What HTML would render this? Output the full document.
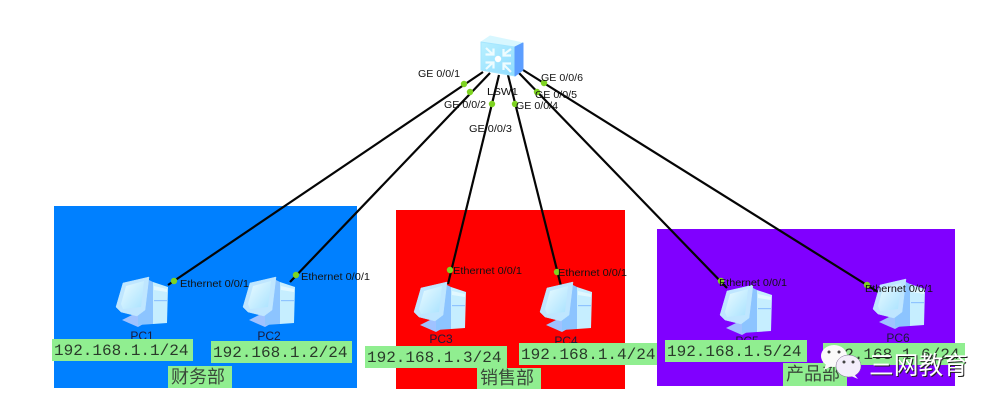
<!DOCTYPE html>
<html lang="zh">
<head>
<meta charset="utf-8">
<title>网络拓扑</title>
<style>
html,body{margin:0;padding:0;background:#fff;width:1000px;height:407px;overflow:hidden}
svg{display:block}
.p{font:10.5px "Liberation Sans",sans-serif;fill:#111}
.pc{font:12px "Liberation Sans",sans-serif;fill:#1a1a3a}
.ip{font:16px "Liberation Mono",monospace;fill:#2a3a2a}
.cn{font:18px "Liberation Sans","Noto Sans CJK SC",sans-serif;fill:#3a4a3a}
.wm{font:25px "Liberation Sans","Noto Sans CJK SC",sans-serif}
</style>
</head>
<body>
<svg width="1000" height="407" viewBox="0 0 1000 407" xmlns="http://www.w3.org/2000/svg">
<defs>
<linearGradient id="scr" x1="0" y1="0" x2="1" y2="1"><stop offset="0" stop-color="#eafbff"/><stop offset="1" stop-color="#a9e2ff"/></linearGradient>
<linearGradient id="sw" x1="0" y1="0" x2="1" y2="1"><stop offset="0" stop-color="#b9f0ff"/><stop offset="1" stop-color="#8fdcff"/></linearGradient>
<g id="pcicon">
<polygon points="6,43 16,38 22,38 29,46 22,50" fill="#9fc2ff"/>
<polygon points="22,12 33,3 37,5 37,47 22,48" fill="#8cc4ff"/>
<polygon points="37,5 52,10 51,46 37,47" fill="#c6eeff"/>
<polygon points="38,9 51,12 51,15 38,13" fill="#e2f8ff"/>
<rect x="38" y="23" width="13" height="1.2" fill="#8fc4ff"/>
<polygon points="0,30 7,6 33,0 29,33 21,39 5,35" fill="#bfe6ff" stroke="#bfe6ff" stroke-width="0.5" stroke-linejoin="round"/>
<polygon points="5,27 10,9 28,4 25,30 7,32" fill="url(#scr)"/>
</g>
</defs>

<rect x="54" y="206" width="303" height="182" fill="#0080ff"/>
<rect x="396" y="210" width="229" height="179" fill="#ff0000"/>
<rect x="657" y="229" width="298" height="157" fill="#8000ff"/>

<g stroke="#050505" stroke-width="2.2" fill="none">
<line x1="483" y1="72" x2="168" y2="285"/>
<line x1="490" y1="73" x2="290" y2="282"/>
<line x1="499" y1="75" x2="448" y2="284"/>
<line x1="508" y1="75" x2="561" y2="286"/>
<line x1="519" y1="73" x2="727" y2="288"/>
<line x1="523" y1="70" x2="878" y2="292"/>
</g>

<!-- Switch -->
<g stroke-linejoin="round" stroke-width="1">
<polygon points="481,42 490,36 523,43 515,47" fill="#d8f7ff" stroke="#d8f7ff"/>
<polygon points="481,42 515,47 515,76 481,70" fill="url(#sw)" stroke="#a5e6ff"/>
<polygon points="515,47 523,43 523,70 515,76" fill="#5c9eff" stroke="#5c9eff"/>
</g>
<circle cx="498" cy="59" r="3.2" fill="#fff"/>
<g stroke="#eefcff" stroke-width="2.2" fill="none">
<path d="M486 48l7 6.5M485.5 54.5h8v-6"/>
<path d="M511 49l-8 6M503.5 49v6.5h7.5"/>
<path d="M486 69l7-6.5M485.5 62.500h8v6"/>
<path d="M511 72l-8-8M503.500 70v-6.500h7.500"/>
</g>

<!-- PCs -->
<use href="#pcicon" x="116" y="277"/>
<use href="#pcicon" x="243" y="277"/>
<use href="#pcicon" x="414" y="282"/>
<use href="#pcicon" x="540" y="282"/>
<use href="#pcicon" x="720" y="285"/>
<use href="#pcicon" x="873" y="279"/>

<!-- Port dots -->
<g fill="#7ed321">
<circle cx="464" cy="84" r="3.2"/><circle cx="470" cy="92" r="3.2"/><circle cx="492" cy="104" r="3.2"/>
<circle cx="515" cy="104" r="3.2"/><circle cx="537" cy="92" r="3.2"/><circle cx="544" cy="83" r="3.2"/>
<circle cx="174" cy="281" r="3.2"/><circle cx="296" cy="275" r="3.2"/><circle cx="450" cy="270" r="3.2"/>
<circle cx="557" cy="272" r="3.2"/><circle cx="721" cy="281" r="3.2"/><circle cx="867" cy="285" r="3.2"/>
</g>

<!-- Port labels -->
<g class="p">
<text x="418" y="77" textLength="42" lengthAdjust="spacingAndGlyphs">GE 0/0/1</text>
<text x="444" y="108" textLength="42" lengthAdjust="spacingAndGlyphs">GE 0/0/2</text>
<text x="469" y="132" textLength="43" lengthAdjust="spacingAndGlyphs">GE 0/0/3</text>
<text x="516" y="109" textLength="42" lengthAdjust="spacingAndGlyphs">GE 0/0/4</text>
<text x="535" y="98" textLength="42" lengthAdjust="spacingAndGlyphs">GE 0/0/5</text>
<text x="541" y="81" textLength="42" lengthAdjust="spacingAndGlyphs">GE 0/0/6</text>
<text x="487" y="95" textLength="31" lengthAdjust="spacingAndGlyphs">LSW1</text>
<text x="180" y="287" textLength="69" lengthAdjust="spacingAndGlyphs">Ethernet 0/0/1</text>
<text x="301" y="280" textLength="69" lengthAdjust="spacingAndGlyphs">Ethernet 0/0/1</text>
<text x="453" y="274" textLength="69" lengthAdjust="spacingAndGlyphs">Ethernet 0/0/1</text>
<text x="558" y="276" textLength="69" lengthAdjust="spacingAndGlyphs">Ethernet 0/0/1</text>
<text x="719" y="286" textLength="68" lengthAdjust="spacingAndGlyphs">Ethernet 0/0/1</text>
<text x="865" y="292" textLength="68" lengthAdjust="spacingAndGlyphs">Ethernet 0/0/1</text>
</g>

<g class="pc" text-anchor="middle">
<text x="142" y="340">PC1</text>
<text x="269" y="340">PC2</text>
<text x="441" y="343">PC3</text>
<text x="566" y="345">PC4</text>
<text x="747" y="345">PC5</text>
<text x="898" y="342">PC6</text>
</g>

<!-- IP labels -->
<g fill="#90ee90">
<rect x="52" y="339" width="141" height="22"/>
<rect x="211" y="341" width="141" height="22"/>
<rect x="365" y="346" width="142" height="22"/>
<rect x="519" y="343" width="138" height="22"/>
<rect x="665" y="340" width="142" height="22"/>
<rect x="823" y="343" width="142" height="22"/>
<rect x="168" y="366" width="64" height="22"/>
<rect x="477" y="368" width="64" height="21"/>
<rect x="783" y="363" width="64" height="23"/>
</g>
<g class="ip">
<text x="54" y="355">192.168.1.1/24</text>
<text x="213" y="357">192.168.1.2/24</text>
<text x="367" y="362">192.168.1.3/24</text>
<text x="521" y="359">192.168.1.4/24</text>
<text x="667" y="356">192.168.1.5/24</text>
<text x="825" y="359">192.168.1.6/24</text>
</g>
<g class="cn">
<text x="171" y="383">财务部</text>
<text x="480" y="384">销售部</text>
<text x="786" y="380">产品部</text>
</g>

<!-- Watermark -->
<ellipse cx="834" cy="356" rx="13" ry="11" fill="#fafafa"/>
<polygon points="826,364 824,370 832,366" fill="#fafafa"/>
<circle cx="829" cy="352" r="1.5" fill="#444"/><circle cx="839" cy="352" r="1.5" fill="#444"/>
<ellipse cx="848.500" cy="366" rx="12.500" ry="11" fill="#f3eefb" stroke="#7a6a90" stroke-width="0.5"/>
<polygon points="854,374 858,379 851,376" fill="#f3eefb"/>
<circle cx="844" cy="362" r="1.5" fill="#444"/><circle cx="853" cy="362" r="1.5" fill="#444"/>
<text class="wm" x="869" y="374" textLength="99" lengthAdjust="spacingAndGlyphs" fill="#222" transform="translate(1 1)">三网教育</text>
<text class="wm" x="869" y="374" textLength="99" lengthAdjust="spacingAndGlyphs" fill="#fff">三网教育</text>
</svg>
</body>
</html>
